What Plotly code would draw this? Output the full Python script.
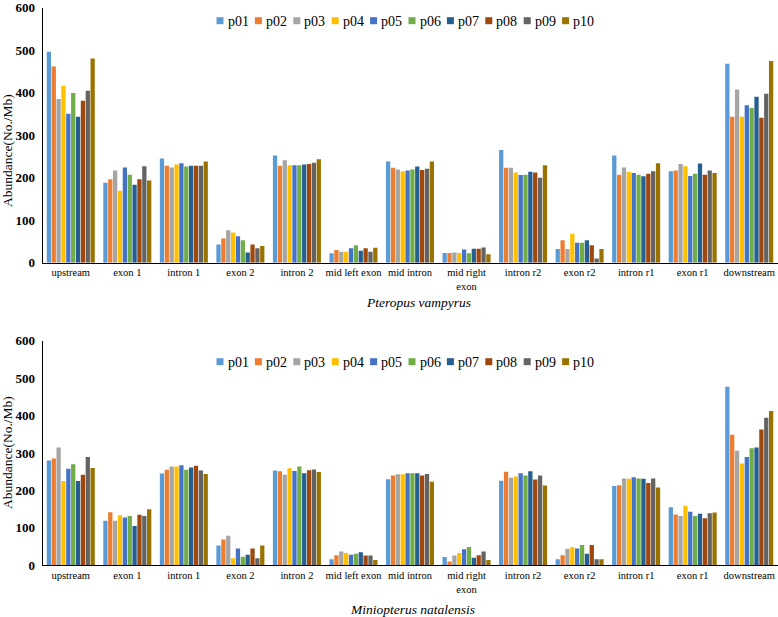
import plotly.graph_objects as go

W, H = 778, 617

categories = ["upstream", "exon 1", "intron 1", "exon 2", "intron 2", "mid left exon",
              "mid intron", "mid right exon", "intron r2", "exon r2", "intron r1",
              "exon r1", "downstream"]
tick_labels = ["upstream", "exon 1", "intron 1", "exon 2", "intron 2", "mid left exon",
               "mid intron", "mid right<br>exon", "intron r2", "exon r2", "intron r1",
               "exon r1", "downstream"]
series = ["p01", "p02", "p03", "p04", "p05", "p06", "p07", "p08", "p09", "p10"]
colors = ["#5B9BD5", "#ED7D31", "#A5A5A5", "#FFC000", "#4472C4",
          "#70AD47", "#255E91", "#9E480E", "#636363", "#997300"]

# Pteropus vampyrus (values per category, p01..p10)
pv_upstream = [496, 461, 385, 416, 350, 399, 343, 381, 404, 480]
pv_exon1 = [188, 196, 217, 169, 224, 207, 183, 196, 227, 193]
pv_intron1 = [245, 228, 224, 231, 234, 226, 228, 228, 228, 238]
pv_exon2 = [43, 57, 76, 71, 62, 53, 24, 43, 34, 39]
pv_intron2 = [252, 228, 241, 229, 229, 229, 231, 232, 235, 243]
pv_mid_left_exon = [22, 30, 26, 26, 34, 41, 28, 34, 26, 35]
pv_mid_intron = [238, 223, 219, 215, 217, 219, 226, 218, 221, 238]
pv_mid_right_exon = [23, 23, 24, 23, 31, 22, 33, 33, 36, 20]
pv_intron_r2 = [265, 223, 223, 212, 206, 207, 214, 212, 200, 229]
pv_exon_r2 = [32, 53, 32, 68, 47, 47, 53, 41, 10, 32]
pv_intron_r1 = [252, 207, 224, 213, 211, 207, 203, 209, 215, 234]
pv_exon_r1 = [215, 217, 232, 227, 204, 209, 233, 207, 217, 211]
pv_downstream = [468, 343, 407, 343, 370, 364, 390, 341, 397, 474]

# Miniopterus natalensis
mn_upstream = [280, 285, 315, 225, 258, 270, 225, 242, 289, 260]
mn_exon1 = [119, 142, 119, 134, 128, 132, 105, 135, 132, 150]
mn_intron1 = [245, 255, 264, 264, 267, 255, 261, 266, 253, 244]
mn_exon2 = [53, 69, 79, 19, 45, 23, 28, 45, 19, 53]
mn_intron2 = [253, 251, 242, 259, 252, 264, 246, 254, 256, 249]
mn_mid_left_exon = [16, 27, 37, 33, 28, 31, 35, 26, 26, 14]
mn_mid_intron = [230, 240, 243, 243, 246, 246, 246, 240, 244, 223]
mn_mid_right_exon = [22, 10, 26, 33, 43, 49, 20, 27, 37, 14]
mn_intron_r2 = [226, 250, 234, 237, 246, 240, 251, 229, 240, 213]
mn_exon_r2 = [16, 27, 44, 49, 45, 54, 31, 54, 16, 16]
mn_intron_r1 = [212, 214, 232, 231, 235, 232, 231, 220, 232, 208]
mn_exon_r1 = [155, 136, 132, 159, 143, 132, 138, 126, 139, 141]
mn_downstream = [477, 349, 306, 272, 289, 313, 315, 363, 394, 412]

pv_rows = [pv_upstream, pv_exon1, pv_intron1, pv_exon2, pv_intron2, pv_mid_left_exon,
           pv_mid_intron, pv_mid_right_exon, pv_intron_r2, pv_exon_r2, pv_intron_r1,
           pv_exon_r1, pv_downstream]
mn_rows = [mn_upstream, mn_exon1, mn_intron1, mn_exon2, mn_intron2, mn_mid_left_exon,
           mn_mid_intron, mn_mid_right_exon, mn_intron_r2, mn_exon_r2, mn_intron_r1,
           mn_exon_r1, mn_downstream]

y_ticks = [0, 100, 200, 300, 400, 500, 600]

FONT = "Liberation Serif"

fig = go.Figure()
for i, name in enumerate(series):
    fig.add_trace(go.Bar(x=categories, y=[row[i] for row in pv_rows], name=name,
                         marker_color=colors[i], xaxis="x", yaxis="y", showlegend=False))
for i, name in enumerate(series):
    fig.add_trace(go.Bar(x=categories, y=[row[i] for row in mn_rows], name=name,
                         marker_color=colors[i], xaxis="x2", yaxis="y2", showlegend=False))


def px_x(p):
    return p / W


def px_y(p):
    return 1 - p / H


xdom = [px_x(42.5), px_x(777.5)]
axis_x = dict(domain=xdom, type="category", tickvals=categories, ticktext=tick_labels,
              showline=True, linecolor="#000000", linewidth=1, ticks="",
              tickfont=dict(family=FONT, size=10.5, color="#000000"), showgrid=False,
              zeroline=False, fixedrange=True, automargin=False,
              ticklabeloverflow="allow")
axis_y = dict(range=[0, 600], tickvals=y_ticks, showline=True, linecolor="#000000",
              linewidth=1, ticks="", showgrid=False, zeroline=False,
              tickfont=dict(family=FONT, size=13, color="#000000", weight="bold"),
              ticklabelstandoff=4, automargin=False, fixedrange=True,
              ticklabeloverflow="allow")

fig.update_layout(
    template="none",
    width=W, height=H,
    margin=dict(l=0, r=0, t=0, b=0, pad=0, autoexpand=False),
    paper_bgcolor="white", plot_bgcolor="white",
    barmode="group", bargap=0.14, bargroupgap=0.12,
    xaxis=dict(axis_x, anchor="y"),
    yaxis=dict(axis_y, domain=[px_y(262.7), px_y(7.5)], anchor="x"),
    xaxis2=dict(axis_x, anchor="y2"),
    yaxis2=dict(axis_y, domain=[px_y(565.3), px_y(340.7)], anchor="x2"),
    font=dict(family=FONT, color="#000000"),
)

# y-axis titles and species captions
annotations = [
    dict(text="Abundance(No./Mb)", x=px_x(7), y=px_y(151), textangle=-90,
         font=dict(family=FONT, size=13.5)),
    dict(text="Abundance(No./Mb)", x=px_x(7), y=px_y(453), textangle=-90,
         font=dict(family=FONT, size=13.5)),
    dict(text="<i>Pteropus vampyrus</i>", x=px_x(418), y=px_y(302),
         font=dict(family=FONT, size=13.5)),
    dict(text="<i>Miniopterus natalensis</i>", x=px_x(412), y=px_y(609),
         font=dict(family=FONT, size=13.5)),
]
shapes = []
# legends (one per panel)
for legend_y in (20.7, 361.7):
    for i, name in enumerate(series):
        x0 = 216.5 + i * 38.4
        shapes.append(dict(type="rect", xref="paper", yref="paper",
                           x0=px_x(x0), x1=px_x(x0 + 7), y0=px_y(legend_y + 3.5),
                           y1=px_y(legend_y - 3.5), fillcolor=colors[i], line=dict(width=0)))
        annotations.append(dict(text=name, x=px_x(x0 + 9), y=px_y(legend_y + 0.5),
                                xanchor="left", font=dict(family=FONT, size=14)))
for a in annotations:
    a.setdefault("xref", "paper")
    a.setdefault("yref", "paper")
    a.setdefault("showarrow", False)
    a.setdefault("xanchor", "center")
    a.setdefault("yanchor", "middle")
fig.update_layout(annotations=annotations, shapes=shapes)

fig.write_html(
    "out.html",
    config={"displayModeBar": False},
    post_script="document.body.style.margin='0';document.body.style.overflow='hidden';",
)
